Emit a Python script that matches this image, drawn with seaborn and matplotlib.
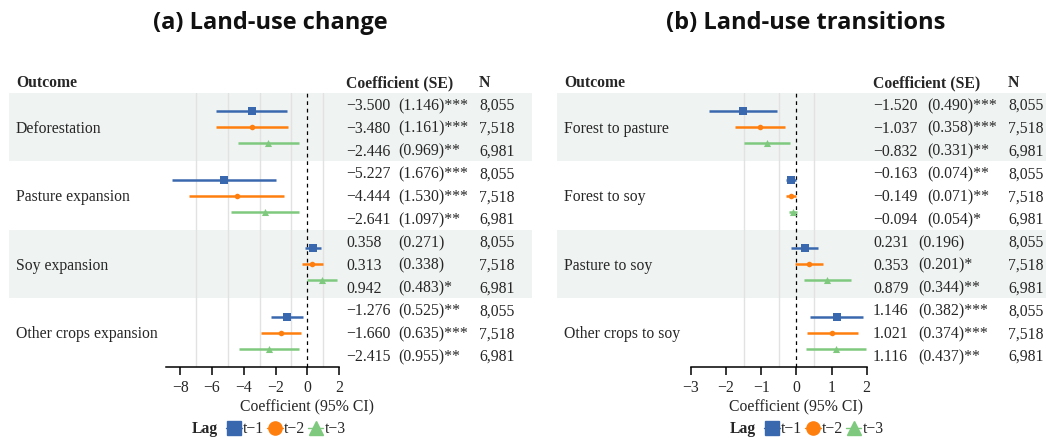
import numpy as np
import pandas as pd
import matplotlib
matplotlib.use("Agg")
import matplotlib.pyplot as plt
import seaborn as sns
from matplotlib.patches import Rectangle
from matplotlib.lines import Line2D
from matplotlib.transforms import blended_transform_factory

# ---------------- data ----------------
lags = ["t\u22121", "t\u22122", "t\u22123"]
n_obs = ["8,055", "7,518", "6,981"]

a_outcomes = ["Deforestation", "Pasture expansion", "Soy expansion", "Other crops expansion"]
a_coef = [[-3.500, -3.480, -2.446],
          [-5.227, -4.444, -2.641],
          [0.358, 0.313, 0.942],
          [-1.276, -1.660, -2.415]]
a_se = [[1.146, 1.161, 0.969],
        [1.676, 1.530, 1.097],
        [0.271, 0.338, 0.483],
        [0.525, 0.635, 0.955]]
a_stars = [["***", "***", "**"],
           ["***", "***", "**"],
           ["", "", "*"],
           ["**", "***", "**"]]

b_outcomes = ["Forest to pasture", "Forest to soy", "Pasture to soy", "Other crops to soy"]
b_coef = [[-1.520, -1.037, -0.832],
          [-0.163, -0.149, -0.094],
          [0.231, 0.353, 0.879],
          [1.146, 1.021, 1.116]]
b_se = [[0.490, 0.358, 0.331],
        [0.074, 0.071, 0.054],
        [0.196, 0.201, 0.344],
        [0.382, 0.374, 0.437]]
b_stars = [["***", "***", "**"],
           ["**", "**", "*"],
           ["", "*", "**"],
           ["***", "***", "**"]]

a_ticks = [-8, -6, -4, -2, 0, 2]
b_ticks = [-3, -2, -1, 0, 1, 2]

# ---------------- style ----------------
sns.set_style("white")
plt.rcParams["font.family"] = ["Liberation Serif", "DejaVu Serif"]
plt.rcParams["axes.unicode_minus"] = True

colors = {lags[0]: "#3A68AF", lags[1]: "#FF7F0E", lags[2]: "#7FC97F"}
markers = {lags[0]: "s", lags[1]: "o", lags[2]: "^"}
msizes = {lags[0]: 28, lags[1]: 16, lags[2]: 26}
band_col = "#EFF3F1"
FS = 11.3

W, H = 1046, 442
fig = plt.figure(figsize=(W / 100, H / 100), dpi=100)
bg = fig.add_axes([0, 0, 1, 1])
bg.set_xlim(0, W)
bg.set_ylim(H, 0)
bg.axis("off")

TOP, ROWH = 93.0, 22.833
def row_px(r):
    return TOP + r * ROWH

def minus(s):
    return s.replace("-", "\u2212")

panels = [
    dict(title="(a) Land-use change", tx=270, outcomes=a_outcomes, coef=a_coef, se=a_se,
         stars=a_stars, ticks=a_ticks, xlim=(-8.9, 2), ax_px=(166, 339),
         band=(9, 532), lab_x=16, coef_x=346, se_x=(398, 398), n_x=479,
         grid=[-7, -5, -3, -1, 1], lag_x=192),
    dict(title="(b) Land-use transitions", tx=806, outcomes=b_outcomes, coef=b_coef, se=b_se,
         stars=b_stars, ticks=b_ticks, xlim=(-3, 2), ax_px=(691, 866.7),
         band=(557, 1046), lab_x=564, coef_x=873, se_x=(927, 918), n_x=1008,
         grid=[-1.5, -0.5, 0.5], lag_x=730),
]

for p in panels:
    # title
    bg.text(p["tx"], 29, p["title"], ha="center", va="baseline", fontsize=17,
            fontweight="bold", family=["Open Sans", "DejaVu Sans"], color="#111111")
    # header
    hy = 83
    bg.text(p["lab_x"], hy, "Outcome", ha="left", va="center", fontsize=FS, fontweight="bold")
    bg.text(p["coef_x"], hy, "Coefficient (SE)", ha="left", va="center", fontsize=FS, fontweight="bold")
    bg.text(p["n_x"], hy, "N", ha="left", va="center", fontsize=FS, fontweight="bold")
    # bands and text rows
    for g, name in enumerate(p["outcomes"]):
        if g % 2 == 0:
            bg.add_patch(Rectangle((p["band"][0], row_px(3 * g)), p["band"][1] - p["band"][0],
                                   3 * ROWH, facecolor=band_col, edgecolor="none", zorder=0))
        bg.text(p["lab_x"], row_px(3 * g + 1.5) + 1.5, name, ha="left", va="center", fontsize=FS)
        for l in range(3):
            c = p["coef"][g][l]
            s = p["se"][g][l]
            yy = row_px(3 * g + l + 0.5) + 1.5
            bg.text(p["coef_x"], yy, minus(f"{c:.3f}"), ha="left", va="center", fontsize=FS)
            sx = p["se_x"][0] if c < 0 else p["se_x"][1]
            bg.text(sx, yy, f"({s:.3f}){p['stars'][g][l]}", ha="left", va="center", fontsize=FS)
            bg.text(p["n_x"], yy, n_obs[l], ha="left", va="center", fontsize=FS)

    # forest axes
    x0, x1 = p["ax_px"]
    ax = fig.add_axes([x0 / W, (H - 367) / H, (x1 - x0) / W, 274 / H])
    ax.set_facecolor("none")
    rows = []
    for g, name in enumerate(p["outcomes"]):
        for l in range(3):
            c = p["coef"][g][l]
            s = p["se"][g][l]
            rows.append(dict(outcome=name, lag=lags[l], coef=c, lo=c - 1.96 * s, hi=c + 1.96 * s,
                             y=3 * g + 1.5 + (l - 1) * 0.71))
    df = pd.DataFrame(rows)
    for gx in p["grid"]:
        ax.axvline(gx, color="#E2E2E2", lw=1, zorder=0)
    ax.axvline(0, color="black", lw=0.9, ls=(0, (3, 3)), zorder=1)
    for lag in lags:
        d = df[df["lag"] == lag]
        ax.hlines(d["y"], d["lo"], d["hi"], color=colors[lag], lw=1.8, zorder=2)
    for lag in lags:
        d = df[df["lag"] == lag]
        sns.scatterplot(data=d, x="coef", y="y", color=colors[lag], marker=markers[lag],
                        s=msizes[lag], linewidth=0, ax=ax, zorder=3, legend=False)
    ax.set_xlim(*p["xlim"])
    ax.set_ylim(12, 0)
    ax.set_xticks(p["ticks"])
    ax.set_xticklabels([minus(str(t)) for t in p["ticks"]], fontsize=FS)
    ax.set_yticks([])
    ax.set_xlabel("")
    ax.set_ylabel("")
    for sp in ["top", "right", "left"]:
        ax.spines[sp].set_visible(False)
    ax.spines["bottom"].set_color("black")
    ax.spines["bottom"].set_linewidth(1.1)
    ax.tick_params(axis="x", direction="out", length=6, width=1.1, color="black", pad=3,
                   bottom=True)
    tr = blended_transform_factory(ax.transData, fig.transFigure)
    ax.text(0, 1 - 407 / H, "Coefficient (95% CI)", transform=tr, ha="center", va="center",
            fontsize=FS)

    # legend
    ly = 429
    bg.text(p["lag_x"], ly, "Lag", ha="left", va="center", fontsize=FS, fontweight="bold")
    handles = [Line2D([], [], color=colors[l], marker=markers[l], markersize=9.5, lw=1) for l in lags]
    fig.legend(handles, lags, loc="center left",
               bbox_to_anchor=((p["lag_x"] + 34) / W, 1 - ly / H), ncol=3, frameon=False,
               fontsize=FS, handlelength=1.0, handletextpad=0.1, columnspacing=0.15,
               borderpad=0, borderaxespad=0)

fig.savefig("out.png", dpi=100)
